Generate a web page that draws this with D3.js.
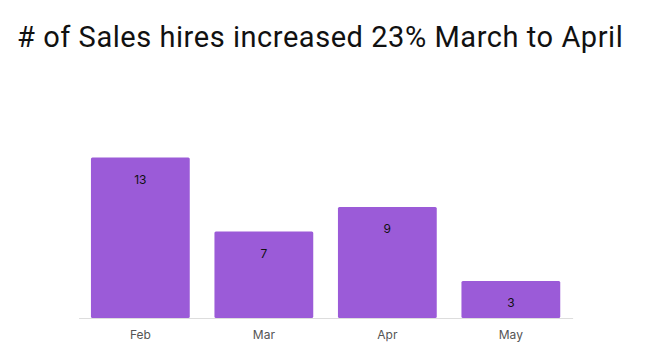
<!DOCTYPE html>
<html>
<head>
<meta charset="utf-8">
<script src="https://cdn.jsdelivr.net/npm/d3@7"></script>
<style>
  body { margin: 0; background: #fff; }
  svg { font-family: Inter, "Noto Sans", sans-serif; }
</style>
</head>
<body>
<div id="chart"></div>
<script>
const months = ['Feb', 'Mar', 'Apr', 'May'];
const hires = [13, 7, 9, 3];
const title = '# of Sales hires increased 23% March to April';

const width = 648, height = 361;
const svg = d3.select('#chart').append('svg')
  .attr('width', width)
  .attr('height', height);

svg.append('text')
  .attr('x', 17)
  .attr('y', 47)
  .attr('font-size', 29)
  .attr('font-family', 'Roboto, sans-serif')
  .attr('letter-spacing', 0.55)
  .attr('fill', '#111')
  .text(title);

const x = d3.scaleBand()
  .domain(months)
  .range([78.6, 572.6])
  .paddingInner(0.2)
  .paddingOuter(0.1);

const y = d3.scaleLinear()
  .domain([0, 13])
  .range([318, 157.5]);

// bars
svg.selectAll('.bar')
  .data(hires)
  .enter().append('rect')
  .attr('class', 'bar')
  .attr('x', (d, i) => x(months[i]))
  .attr('y', d => y(d))
  .attr('width', x.bandwidth())
  .attr('height', d => y(0) - y(d))
  .attr('rx', 1.5)
  .attr('fill', '#9b5bd8');

// value labels
svg.selectAll('.val')
  .data(hires)
  .enter().append('text')
  .attr('class', 'val')
  .attr('x', (d, i) => x(months[i]) + x.bandwidth() / 2)
  .attr('y', d => y(d) + 26)
  .attr('text-anchor', 'middle')
  .attr('font-size', 12)
  .attr('fill', '#111')
  .text(d => d);

// axis
const axis = svg.append('g')
  .attr('transform', 'translate(0,318)')
  .call(d3.axisBottom(x).tickSize(0).tickPadding(12));
axis.select('.domain').attr('stroke', '#dddddd');
axis.selectAll('text')
  .attr('font-size', 12)
  .attr('font-family', 'Inter, "Noto Sans", sans-serif')
  .attr('fill', '#555');
</script>
</body>
</html>
